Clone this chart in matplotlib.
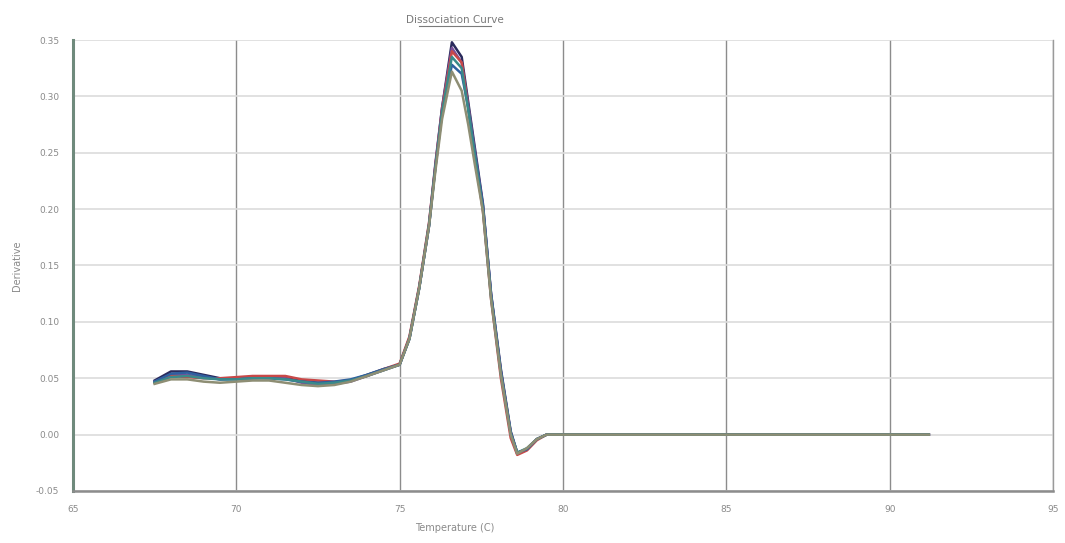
import numpy as np
import matplotlib.pyplot as plt

# temperature points (C)
temps = [67.5, 68.0, 68.5, 69.0, 69.5, 70.0, 70.5, 71.0, 71.5, 72.0, 72.5, 73.0,
         73.5, 74.0, 74.5, 75.0, 75.3, 75.6, 75.9, 76.1, 76.3, 76.6, 76.9, 77.1,
         77.3, 77.55, 77.8, 78.1, 78.4, 78.6, 78.9, 79.2, 79.5, 91.2]

# derivative curves, one per well
well_navy = [0.048, 0.056, 0.056, 0.053, 0.050, 0.050, 0.050, 0.051, 0.050, 0.048, 0.046, 0.046,
             0.048, 0.053, 0.058, 0.062, 0.085, 0.130, 0.185, 0.240, 0.290, 0.348, 0.335, 0.295,
             0.255, 0.205, 0.125, 0.058, 0.003, -0.016, -0.013, -0.004, 0.0, 0.0]
well_purple = [0.047, 0.053, 0.053, 0.051, 0.049, 0.050, 0.051, 0.050, 0.050, 0.046, 0.044, 0.045,
               0.047, 0.052, 0.057, 0.062, 0.086, 0.131, 0.187, 0.242, 0.290, 0.343, 0.330, 0.292,
               0.252, 0.203, 0.124, 0.056, 0.002, -0.017, -0.013, -0.004, 0.0, 0.0]
well_red = [0.046, 0.052, 0.051, 0.050, 0.050, 0.051, 0.052, 0.052, 0.052, 0.049, 0.048, 0.047,
            0.048, 0.052, 0.058, 0.063, 0.087, 0.132, 0.188, 0.240, 0.288, 0.340, 0.330, 0.290,
            0.248, 0.198, 0.120, 0.050, -0.003, -0.018, -0.014, -0.005, 0.0, 0.0]
well_blue = [0.047, 0.054, 0.055, 0.052, 0.049, 0.049, 0.050, 0.050, 0.049, 0.047, 0.046, 0.047,
             0.049, 0.053, 0.058, 0.062, 0.085, 0.130, 0.185, 0.238, 0.285, 0.328, 0.320, 0.290,
             0.250, 0.203, 0.124, 0.056, 0.002, -0.016, -0.013, -0.004, 0.0, 0.0]
well_teal = [0.046, 0.051, 0.052, 0.050, 0.049, 0.049, 0.050, 0.050, 0.049, 0.047, 0.045, 0.046,
             0.048, 0.052, 0.057, 0.062, 0.085, 0.130, 0.186, 0.238, 0.286, 0.335, 0.325, 0.288,
             0.248, 0.200, 0.122, 0.054, 0.001, -0.016, -0.012, -0.004, 0.0, 0.0]
well_grey = [0.045, 0.049, 0.049, 0.047, 0.046, 0.047, 0.048, 0.048, 0.046, 0.044, 0.043, 0.044,
             0.047, 0.052, 0.057, 0.062, 0.085, 0.130, 0.185, 0.235, 0.280, 0.322, 0.305, 0.275,
             0.240, 0.198, 0.120, 0.053, 0.000, -0.017, -0.012, -0.004, 0.0, 0.0]

curves = [well_navy, well_purple, well_red, well_blue, well_teal, well_grey]
colors = ['#2a2a5c', '#7a4f9a', '#c84848', '#2f5f9f', '#3a8a8a', '#8e8e74']

xticks = [65, 70, 75, 80, 85, 90, 95]
yticks = [-0.05, 0.00, 0.05, 0.10, 0.15, 0.20, 0.25, 0.30, 0.35]

fig = plt.figure(figsize=(10.65, 5.43), dpi=100)
ax = fig.add_axes([0.0685, 0.0958, 0.9202, 0.8305])

for y, c in zip(curves, colors):
    ax.plot(temps, y, color=c, lw=1.8)

ax.set_xlim(65, 95)
ax.set_ylim(-0.05, 0.35)
ax.set_xticks(xticks)
ax.set_yticks(yticks)
ax.set_xticklabels([str(t) for t in xticks])
ax.set_yticklabels([f"{t:.2f}" for t in yticks])

# grid: dark vertical lines, light horizontal lines
ax.xaxis.grid(True, color='#8c8c8c', lw=1.0)
ax.yaxis.grid(True, color='#dcdcdc', lw=1.2)
ax.set_axisbelow(True)

ax.tick_params(length=0, labelsize=6.5, colors='#8a8a8a', pad=10)
ax.spines['left'].set_color('#6f8a7c')
ax.spines['left'].set_linewidth(2.2)
ax.spines['bottom'].set_color('#8c8c8c')
ax.spines['bottom'].set_linewidth(1.8)
ax.spines['right'].set_color('#9a9a9a')
ax.spines['right'].set_linewidth(1.0)
ax.spines['top'].set_visible(False)

ax.set_xlabel('Temperature (C)', fontsize=7, color='#8a8a8a', labelpad=6)
ax.xaxis.set_label_coords(0.39, -0.07)
ax.set_ylabel('Derivative', fontsize=7, color='#8a8a8a')
ax.yaxis.set_label_coords(-0.052, 0.5)

ax.text(0.39, 1.045, 'Dissociation Curve', transform=ax.transAxes,
        ha='center', va='center', fontsize=7.5, color='#7a7a7a')
# underline under the title
ax.plot([0.353, 0.427], [1.03, 1.03], transform=ax.transAxes, color='#7a7a7a',
        lw=0.8, clip_on=False)

fig.savefig('out.png', dpi=100)
